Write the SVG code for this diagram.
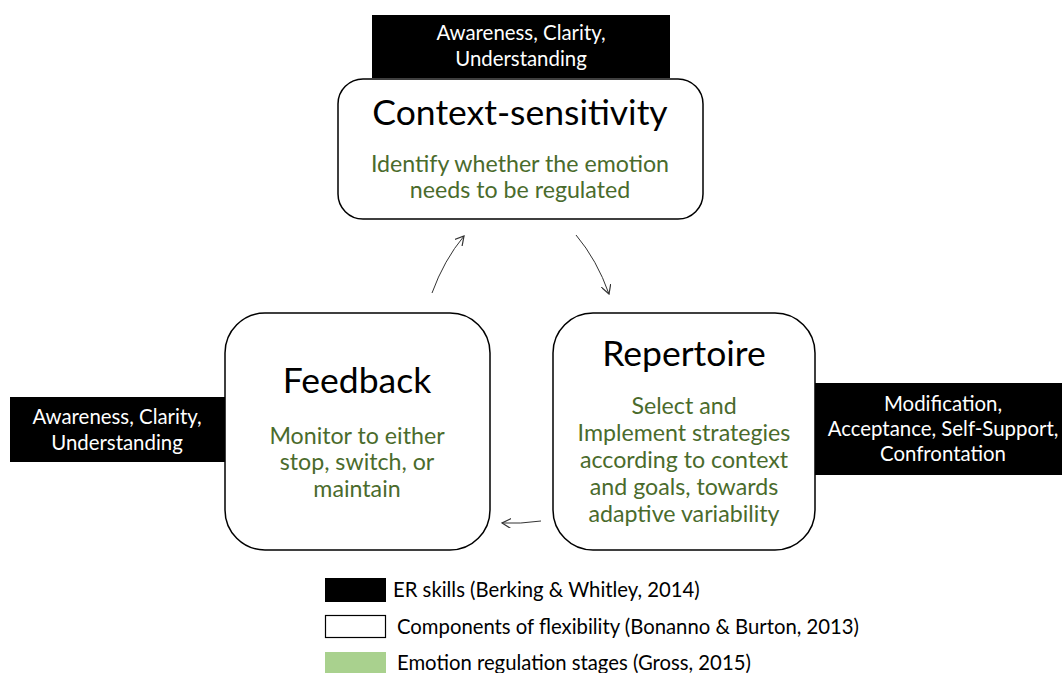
<svg xmlns="http://www.w3.org/2000/svg" width="1062" height="673" viewBox="0 0 1062 673">
<defs>
<style>
text{font-family:Lato,"Open Sans","Liberation Sans",sans-serif;text-anchor:middle}
.skill{fill:#000}
.node{fill:#fff;stroke:#000;stroke-width:1.5}
.title{font-size:35.5px;fill:#000}
.stage{font-size:23.2px;fill:#4a6b2c}
.sk{font-size:20.4px;fill:#fff}
.leg{font-size:20.3px;fill:#000;text-anchor:start}
.conn{fill:none;stroke:#333;stroke-width:1}
</style>
<marker id="ah" viewBox="0 0 10 10" refX="9" refY="5" markerWidth="10" markerHeight="10" markerUnits="userSpaceOnUse" orient="auto">
<path d="M0,0 L9,5 L0,10" fill="none" stroke="#333" stroke-width="1.2"/>
</marker>
</defs>
<rect width="1062" height="673" fill="#fff"/>
<g id="skill-top">
<rect class="skill" x="372" y="15" width="298" height="63"/>
<text class="sk" x="521" y="40">Awareness, Clarity,</text>
<text class="sk" x="521" y="66">Understanding</text>
</g>
<g id="skill-left">
<rect class="skill" x="10" y="397" width="216" height="65"/>
<text class="sk" x="117" y="424">Awareness, Clarity,</text>
<text class="sk" x="117" y="450">Understanding</text>
</g>
<g id="skill-right">
<rect class="skill" x="814" y="383" width="248" height="92"/>
<text class="sk" x="943" y="411">Modification,</text>
<text class="sk" x="943" y="436">Acceptance, Self-Support,</text>
<text class="sk" x="943" y="461">Confrontation</text>
</g>
<g id="context-sensitivity">
<rect class="node" x="338" y="79" width="365" height="140" rx="25" ry="25"/>
<text class="title" x="520" y="125">Context-sensitivity</text>
<text class="stage" x="520" y="172">Identify whether the emotion</text>
<text class="stage" x="520" y="198">needs to be regulated</text>
</g>
<g id="feedback">
<rect class="node" x="225" y="313" width="265" height="237" rx="40" ry="40"/>
<text class="title" x="357" y="393">Feedback</text>
<text class="stage" x="357" y="444">Monitor to either</text>
<text class="stage" x="357" y="470">stop, switch, or</text>
<text class="stage" x="357" y="497">maintain</text>
</g>
<g id="repertoire">
<rect class="node" x="553" y="313" width="262" height="237" rx="40" ry="40"/>
<text class="title" x="684" y="366">Repertoire</text>
<text class="stage" x="684" y="414">Select and</text>
<text class="stage" x="684" y="441">Implement strategies</text>
<text class="stage" x="684" y="468">according to context</text>
<text class="stage" x="684" y="495">and goals, towards</text>
<text class="stage" x="684" y="522">adaptive variability</text>
</g>
<g id="connectors">
<path class="conn" d="M432,293 Q444,260 464,236" marker-end="url(#ah)"/>
<path class="conn" d="M576,235 Q597,260 609,294" marker-end="url(#ah)"/>
<path class="conn" d="M541,521 Q520,524 502,523" marker-end="url(#ah)"/>
</g>
<g id="legend">
<rect x="325" y="578" width="61" height="24" fill="#000"/>
<text class="leg" x="393" y="597">ER skills (Berking &amp; Whitley, 2014)</text>
<rect x="325.5" y="615.5" width="60" height="22" fill="#fff" stroke="#000" stroke-width="1.2"/>
<text class="leg" x="397" y="634">Components of flexibility (Bonanno &amp; Burton, 2013)</text>
<rect x="325" y="652" width="61" height="21" fill="#a9d18e"/>
<text class="leg" x="397" y="670">Emotion regulation stages (Gross, 2015)</text>
</g>
</svg>
